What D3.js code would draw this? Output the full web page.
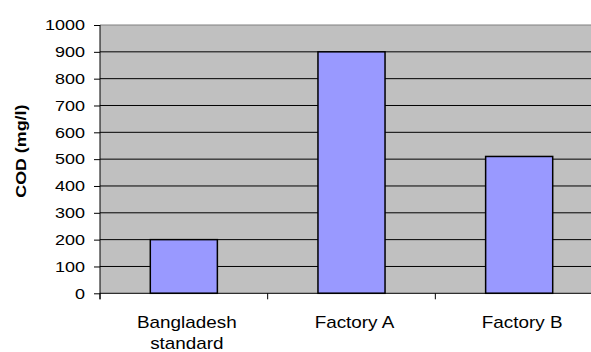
<!DOCTYPE html>
<html>
<head>
<meta charset="utf-8">
<script src="https://cdn.jsdelivr.net/npm/d3@7"></script>
<style>
  html, body { margin: 0; padding: 0; background: #fff; }
  svg { display: block; }
  text { font-family: Arial, "Liberation Sans", sans-serif; fill: #000; }
</style>
</head>
<body>
<svg id="chart" width="591" height="352"></svg>
<script>
// COD concentrations of wastewater, mg/l
const categories = ["Bangladesh standard", "Factory A", "Factory B"];
const codValues = [200, 900, 510];
const yTicks = [0, 100, 200, 300, 400, 500, 600, 700, 800, 900, 1000];
const yTitle = "COD (mg/l)";

const svg = d3.select("#chart");
const plot = { left: 100, right: 603, top: 25, bottom: 293.3 };

const x = d3.scaleBand()
  .domain(categories)
  .range([plot.left, plot.right])
  .paddingInner(0.6)
  .paddingOuter(0.3);

const y = d3.scaleLinear()
  .domain([0, 1000])
  .range([plot.bottom, plot.top]);

// plot background
svg.append("rect")
  .attr("x", plot.left).attr("y", plot.top)
  .attr("width", plot.right - plot.left)
  .attr("height", plot.bottom - plot.top)
  .attr("fill", "#c0c0c0");

// top border of plot area
svg.append("line")
  .attr("x1", plot.left).attr("x2", plot.right)
  .attr("y1", y(1000)).attr("y2", y(1000))
  .attr("stroke", "#808080").attr("stroke-width", 1.2);

// horizontal gridlines
svg.append("g")
  .selectAll("line")
  .data(yTicks.filter(d => d > 0 && d < 1000))
  .join("line")
  .attr("x1", plot.left).attr("x2", plot.right)
  .attr("y1", d => y(d)).attr("y2", d => y(d))
  .attr("stroke", "#000").attr("stroke-width", 1);

// bars
svg.append("g")
  .selectAll("rect")
  .data(categories.map((c, i) => ({ c, v: codValues[i] })))
  .join("rect")
  .attr("x", d => x(d.c))
  .attr("y", d => y(d.v))
  .attr("width", x.bandwidth())
  .attr("height", d => y(0) - y(d.v))
  .attr("fill", "#9999ff")
  .attr("stroke", "#000")
  .attr("stroke-width", 1.5);

// y axis
const yAxis = svg.append("g")
  .attr("transform", `translate(${plot.left},0)`)
  .call(d3.axisLeft(y).tickValues(yTicks).tickFormat(d3.format("d"))
    .tickSize(6).tickPadding(9).tickSizeOuter(0));
yAxis.select(".domain").attr("stroke", "#000").attr("d", `M0,${plot.top}V${plot.bottom + 6}`);
yAxis.selectAll(".tick line").attr("stroke", "#000");
yAxis.selectAll(".tick text")
  .attr("font-size", 15)
  .attr("font-family", "Arial, 'Liberation Sans', sans-serif")
  .attr("fill", "#000")
  .each(function () {
    const t = d3.select(this);
    const tx = +t.attr("x");
    t.attr("x", 0).attr("transform", `translate(${tx},0) scale(1.2,1)`);
  });

// x axis with ticks at category boundaries
const step = x.step();
const boundaries = d3.range(categories.length + 1).map(i => plot.left + i * step);
const xg = svg.append("g");
xg.append("line")
  .attr("x1", plot.left).attr("x2", plot.right)
  .attr("y1", plot.bottom).attr("y2", plot.bottom)
  .attr("stroke", "#000");
xg.selectAll(".bt")
  .data(boundaries)
  .join("line")
  .attr("class", "bt")
  .attr("x1", d => d).attr("x2", d => d)
  .attr("y1", plot.bottom).attr("y2", plot.bottom + 6)
  .attr("stroke", "#000");

// category labels, word-wrapped to the category width
const catSize = 16, catScale = 1.18, lineGap = 22;
const measure = svg.append("text").attr("font-size", catSize).attr("visibility", "hidden");
function wrap(label, maxW) {
  const words = label.split(" ");
  const lines = [];
  let cur = "";
  words.forEach(w => {
    const test = cur ? cur + " " + w : w;
    measure.text(test);
    if (cur && measure.node().getComputedTextLength() * catScale > maxW) {
      lines.push(cur);
      cur = w;
    } else {
      cur = test;
    }
  });
  if (cur) lines.push(cur);
  return lines;
}
categories.forEach(c => {
  const cx = x(c) + x.bandwidth() / 2 + 3;
  const lines = wrap(c, step * 0.9);
  const t = xg.append("text")
    .attr("font-size", catSize)
    .attr("text-anchor", "middle")
    .attr("transform", `translate(${cx},327.5) scale(${catScale},1)`);
  lines.forEach((ln, i) => {
    t.append("tspan").attr("x", 0).attr("y", i * lineGap).text(ln);
  });
});
measure.remove();

// y axis title
svg.append("text")
  .attr("font-size", 15)
  .attr("font-weight", "bold")
  .attr("text-anchor", "middle")
  .attr("transform", `translate(25.5,${(plot.top + plot.bottom) / 2 - 8}) rotate(-90) scale(1.19,1)`)
  .text(yTitle);
</script>
</body>
</html>
